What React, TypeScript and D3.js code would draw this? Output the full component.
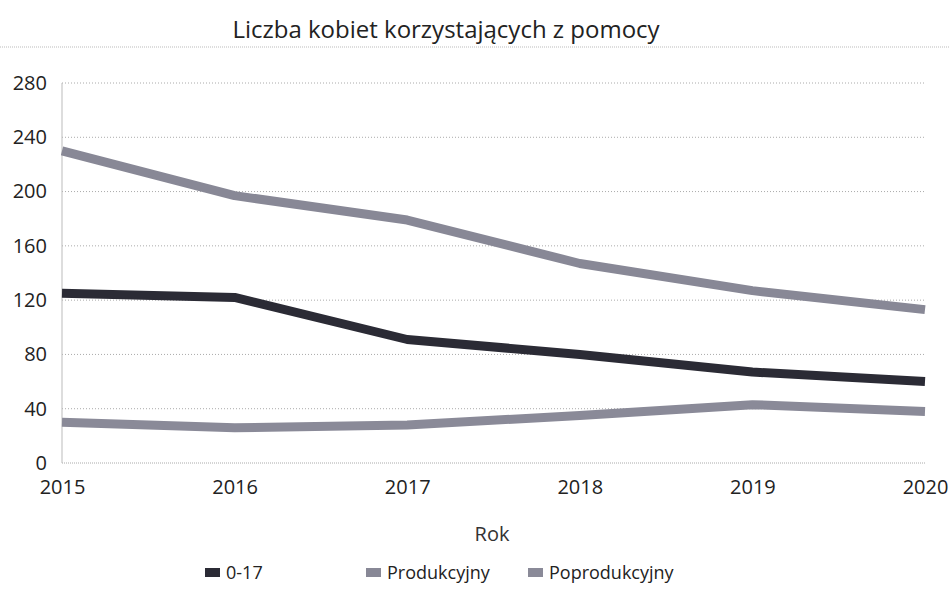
import React, { useRef, useEffect } from "react";
import * as d3 from "d3";

const years = ["2015", "2016", "2017", "2018", "2019", "2020"];
const kids = [125, 122, 91, 80, 67, 60];
const working = [230, 197, 179, 147, 127, 113];
const retired = [30, 26, 28, 35, 43, 38];
const yTicks = [0, 40, 80, 120, 160, 200, 240, 280];

const series = [
  { name: "0-17", values: kids, color: "#2b2b35" },
  { name: "Produkcyjny", values: working, color: "#888896" },
  { name: "Poprodukcyjny", values: retired, color: "#8a8a98" },
];

const W = 949;
const H = 589;
const font = "'Open Sans', 'Noto Sans', sans-serif";

const App = () => {
  const svgRef = useRef<SVGSVGElement>(null);

  useEffect(() => {
    const svg = d3.select(svgRef.current);
    svg.selectAll("*").remove();

    const x = d3.scalePoint<string>().domain(years).range([62, 925]);
    const y = d3.scaleLinear().domain([0, 280]).range([463, 83]);

    // title
    svg
      .append("text")
      .attr("x", 446)
      .attr("y", 38)
      .attr("text-anchor", "middle")
      .attr("font-family", font)
      .attr("font-size", 24)
      .attr("fill", "#222")
      .text("Liczba kobiet korzystających z pomocy");

    svg
      .append("line")
      .attr("x1", 0)
      .attr("x2", W)
      .attr("y1", 47)
      .attr("y2", 47)
      .attr("stroke", "#bbb")
      .attr("stroke-dasharray", "1,1");

    // grid
    svg
      .append("g")
      .selectAll("line")
      .data(yTicks)
      .join("line")
      .attr("x1", 62)
      .attr("x2", 925)
      .attr("y1", (d) => y(d))
      .attr("y2", (d) => y(d))
      .attr("stroke", "#aaa")
      .attr("stroke-width", 1)
      .attr("stroke-dasharray", (d) => (d === 0 ? "1,1" : "1,2"));

    svg
      .append("line")
      .attr("x1", 62)
      .attr("x2", 62)
      .attr("y1", 83)
      .attr("y2", 463)
      .attr("stroke", "#bbb");

    const yAxis = svg
      .append("g")
      .attr("transform", "translate(62,0)")
      .call(d3.axisLeft(y).tickValues(yTicks).tickSize(0).tickPadding(15));
    yAxis.select(".domain").remove();
    yAxis
      .selectAll("text")
      .attr("font-family", font)
      .attr("font-size", 20)
      .attr("fill", "#222");

    const xAxis = svg
      .append("g")
      .attr("transform", "translate(0,463)")
      .call(d3.axisBottom(x).tickSize(0).tickPadding(17));
    xAxis.select(".domain").remove();
    xAxis
      .selectAll("text")
      .attr("font-family", font)
      .attr("font-size", 20)
      .attr("fill", "#222");

    svg
      .append("text")
      .attr("x", 492)
      .attr("y", 541)
      .attr("text-anchor", "middle")
      .attr("font-family", font)
      .attr("font-size", 20)
      .attr("fill", "#333")
      .text("Rok");

    const lineGen = d3
      .line<number>()
      .x((_, i) => x(years[i]) as number)
      .y((d) => y(d));

    svg
      .append("g")
      .selectAll("path")
      .data(series)
      .join("path")
      .attr("d", (s) => lineGen(s.values))
      .attr("fill", "none")
      .attr("stroke", (s) => s.color)
      .attr("stroke-width", 9)
      .attr("stroke-linejoin", "round");

    const legendX = [205, 366, 528];
    const lg = svg
      .append("g")
      .selectAll("g")
      .data(series)
      .join("g")
      .attr("transform", (_, i) => `translate(${legendX[i]},577)`);
    lg.append("rect")
      .attr("x", 0)
      .attr("y", -9)
      .attr("width", 15)
      .attr("height", 9)
      .attr("fill", (s) => s.color);
    lg.append("text")
      .attr("x", 21)
      .attr("y", 2)
      .attr("font-family", font)
      .attr("font-size", 18)
      .attr("fill", "#222")
      .text((s) => s.name);
  }, []);

  return (
    <svg
      ref={svgRef}
      width={W}
      height={H}
      style={{ position: "absolute", left: 0, top: 0, background: "#fff" }}
    />
  );
};

export default App;
